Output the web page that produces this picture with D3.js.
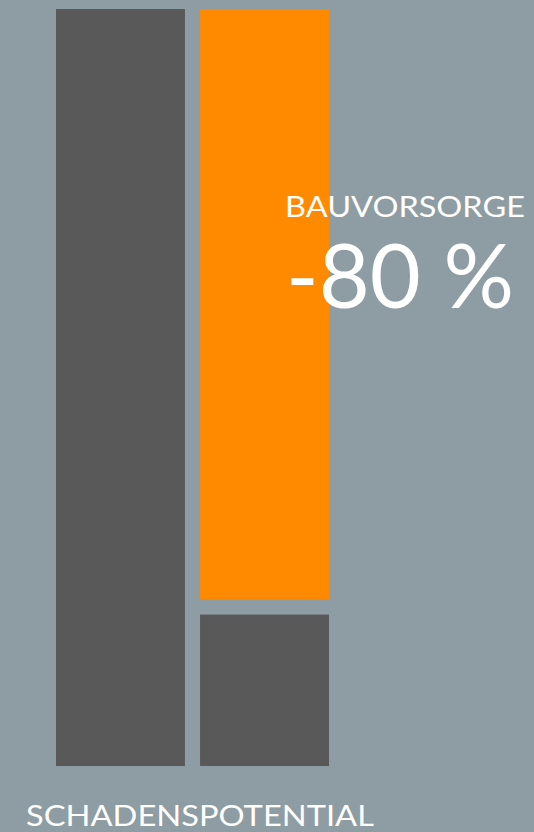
<!DOCTYPE html>
<html>
<head>
<meta charset="utf-8">
<script src="https://cdn.jsdelivr.net/npm/d3@7"></script>
<style>
  html, body { margin: 0; padding: 0; background: #8e9ca3; }
  svg { display: block; }
</style>
</head>
<body>
<div id="chart"></div>
<script>
(() => {
    // Chart data
    const columns = ["Ohne Vorsorge", "Mit Bauvorsorge"];
    const totalDamage = [100, 20];      // remaining damage potential (%)
    const reduction = [0, 80];          // reduction through Bauvorsorge (%)
    const reductionLabel = "BAUVORSORGE";
    const reductionValue = "-80 %";
    const axisLabel = "SCHADENSPOTENTIAL";

    const width = 534, height = 832;
    const margin = { top: 9, right: 205, bottom: 66, left: 56 };
    const gap = 15;

    const svg = d3.select("#chart")
        .append("svg")
        .attr("width", width)
        .attr("height", height);

    svg.append("rect")
        .attr("width", width)
        .attr("height", height)
        .attr("fill", "#8e9ca3");

    const x = d3.scaleBand()
        .domain(columns)
        .range([margin.left, width - margin.right])
        .paddingInner(0.105)
        .paddingOuter(0);

    const y = d3.scaleLinear()
        .domain([0, 100])
        .range([height - margin.bottom, margin.top]);

    // Dark damage bars
    svg.selectAll("rect.damage")
        .data(columns)
        .enter()
        .append("rect")
        .attr("class", "damage")
        .attr("x", d => x(d))
        .attr("y", (d, i) => y(totalDamage[i]))
        .attr("width", x.bandwidth())
        .attr("height", (d, i) => y(0) - y(totalDamage[i]))
        .attr("fill", "#595959");

    // Orange reduction bar stacked above, with a gap
    svg.selectAll("rect.reduction")
        .data(columns.filter((d, i) => reduction[i] > 0))
        .enter()
        .append("rect")
        .attr("class", "reduction")
        .attr("x", d => x(d))
        .attr("y", d => {
            const i = columns.indexOf(d);
            return y(totalDamage[i] + reduction[i]);
        })
        .attr("width", x.bandwidth())
        .attr("height", d => {
            const i = columns.indexOf(d);
            return y(totalDamage[i]) - y(totalDamage[i] + reduction[i]) - gap;
        })
        .attr("fill", "#ff8a00");

    const font = "Lato, 'Noto Sans', sans-serif";

    // Fit a text element to a target width
    function fit(sel, w) {
        const len = sel.node().getComputedTextLength();
        if (len > 0) sel.attr("textLength", w).attr("lengthAdjust", "spacingAndGlyphs");
    }

    const t1 = svg.append("text")
        .attr("x", 285)
        .attr("y", 217)
        .attr("fill", "#fff")
        .style("font-family", font)
        .style("font-size", "28px")
        .text(reductionLabel);
    fit(t1, 240);

    const t2 = svg.append("text")
        .attr("x", 286)
        .attr("y", 308)
        .attr("fill", "#fff")
        .style("font-family", font)
        .style("font-size", "90px")
        .text(reductionValue);
    fit(t2, 228);

    const t3 = svg.append("text")
        .attr("x", 26)
        .attr("y", 826)
        .attr("fill", "#fff")
        .style("font-family", font)
        .style("font-size", "29px")
        .text(axisLabel);
    fit(t3, 348);
})();
</script>
</body>
</html>
